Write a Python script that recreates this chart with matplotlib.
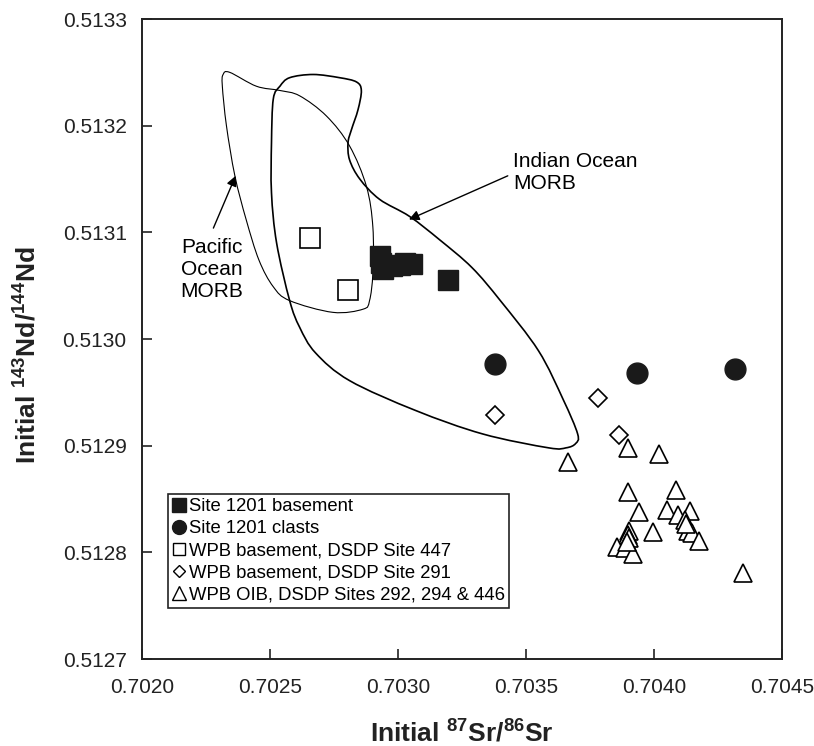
import matplotlib
matplotlib.use("Agg")
import matplotlib.pyplot as plt
from matplotlib import font_manager
from matplotlib.lines import Line2D
from matplotlib.path import Path
from matplotlib.patches import PathPatch

# Site 1201 basement (filled squares)
bas_sr = [0.702930, 0.702934, 0.702941, 0.702977, 0.703008, 0.703027, 0.703055, 0.703195]
bas_nd = [0.513078, 0.513071, 0.513066, 0.513068, 0.513069, 0.513071, 0.513070, 0.513055]

# Site 1201 clasts (filled circles)
cla_sr = [0.703378, 0.703932, 0.704315]
cla_nd = [0.512977, 0.512968, 0.512972]

# WPB basement, DSDP Site 447 (open squares)
s447_sr = [0.702655, 0.702805]
s447_nd = [0.513095, 0.513046]

# WPB basement, DSDP Site 291 (open diamonds)
s291_sr = [0.703380, 0.703780, 0.703864]
s291_nd = [0.512929, 0.512945, 0.512910]

# WPB OIB, DSDP Sites 292, 294 & 446 (open triangles)
oib_sr = [0.703666, 0.703899, 0.704019, 0.703900, 0.704085, 0.703941, 0.704050,
          0.704141, 0.704095, 0.704122, 0.703996, 0.703904, 0.703900, 0.703904,
          0.703855, 0.703888, 0.703918, 0.704134, 0.704148, 0.704177, 0.704126,
          0.704349, 0.703894]
oib_nd = [0.512885, 0.512898, 0.512892, 0.512857, 0.512858, 0.512838, 0.512840,
          0.512839, 0.512835, 0.512830, 0.512819, 0.512820, 0.512816, 0.512813,
          0.512805, 0.512804, 0.512798, 0.512820, 0.512818, 0.512811, 0.512827,
          0.512781, 0.512810]

# MORB fields (outline vertices)
pac_sr = [0.702317, 0.702343, 0.702447, 0.702539, 0.702616, 0.702721, 0.702811,
          0.702877, 0.702902, 0.702902, 0.702889, 0.702864, 0.702746, 0.702577,
          0.702513, 0.702457, 0.702407, 0.702363, 0.702330, 0.702314]
pac_nd = [0.513248, 0.513250, 0.513237, 0.513233, 0.513228, 0.513209, 0.513181,
          0.513143, 0.513105, 0.513062, 0.513036, 0.513028, 0.513025, 0.513036,
          0.513049, 0.513074, 0.513112, 0.513153, 0.513200, 0.513237]

ind_sr = [0.702513, 0.702539, 0.702577, 0.702669, 0.702772, 0.702838, 0.702857,
          0.702844, 0.702818, 0.702805, 0.702811, 0.702851, 0.702928, 0.703045,
          0.703163, 0.703289, 0.703400, 0.703549, 0.703646, 0.703702, 0.703694,
          0.703657, 0.703588, 0.703331, 0.703069, 0.702811, 0.702678, 0.702616,
          0.702577, 0.702526, 0.702506, 0.702506]
ind_nd = [0.513225, 0.513237, 0.513245, 0.513248, 0.513245, 0.513241, 0.513233,
          0.513215, 0.513196, 0.513184, 0.513168, 0.513150, 0.513131, 0.513115,
          0.513093, 0.513067, 0.513036, 0.512989, 0.512943, 0.512911, 0.512902,
          0.512898, 0.512898, 0.512911, 0.512933, 0.512961, 0.512987, 0.513011,
          0.513036, 0.513090, 0.513137, 0.513184]

x_ticks = [0.7020, 0.7025, 0.7030, 0.7035, 0.7040, 0.7045]
y_ticks = [0.5127, 0.5128, 0.5129, 0.5130, 0.5131, 0.5132, 0.5133]


def pick(names):
    for n in names:
        try:
            font_manager.findfont(n, fallback_to_default=False)
            return n
        except ValueError:
            pass
    return "DejaVu Sans"


def closed_curve(xs, ys):
    # smooth closed outline through the vertices (cubic bezier segments)
    n = len(xs)
    verts = [(xs[0], ys[0])]
    codes = [Path.MOVETO]
    for i in range(n):
        p0 = (xs[i - 1], ys[i - 1])
        p1 = (xs[i], ys[i])
        p2 = (xs[(i + 1) % n], ys[(i + 1) % n])
        p3 = (xs[(i + 2) % n], ys[(i + 2) % n])
        c1 = (p1[0] + (p2[0] - p0[0]) / 6, p1[1] + (p2[1] - p0[1]) / 6)
        c2 = (p2[0] - (p3[0] - p1[0]) / 6, p2[1] - (p3[1] - p1[1]) / 6)
        verts += [c1, c2, p2]
        codes += [Path.CURVE4] * 3
    return Path(verts, codes)


base_font = pick(["Liberation Sans", "Arial"])
label_font = pick(["Liberation Sans Narrow", "Liberation Sans"])

plt.rcParams["font.family"] = base_font
plt.rcParams["mathtext.fontset"] = "custom"
plt.rcParams["mathtext.rm"] = label_font + ":bold"
plt.rcParams["mathtext.it"] = label_font + ":bold"
plt.rcParams["mathtext.bf"] = label_font + ":bold"

fig = plt.figure(figsize=(8.14, 7.46), dpi=100)
ax = fig.add_axes([0.1744, 0.1166, 0.7862, 0.8579])

# fields
ax.add_patch(PathPatch(closed_curve(pac_sr, pac_nd), fill=False,
                       edgecolor="black", lw=0.8))
ax.add_patch(PathPatch(closed_curve(ind_sr, ind_nd), fill=False,
                       edgecolor="black", lw=1.2))

# data
ax.plot(oib_sr, oib_nd, ls="none", marker="^", ms=13, mfc="white",
        mec="black", mew=1.2)
ax.plot(s291_sr, s291_nd, ls="none", marker="D", ms=9, mfc="white",
        mec="black", mew=1.2)
ax.plot(s447_sr, s447_nd, ls="none", marker="s", ms=15, mfc="white",
        mec="black", mew=1.2)
ax.plot(cla_sr, cla_nd, ls="none", marker="o", ms=15, mfc="#1a1a1a",
        mec="#1a1a1a")
ax.plot(bas_sr, bas_nd, ls="none", marker="s", ms=15, mfc="#1a1a1a",
        mec="#1a1a1a")

# annotations
ax.annotate("", xy=(0.702366, 0.513153), xytext=(0.702279, 0.513104),
            arrowprops=dict(arrowstyle="-|>", color="black", lw=1,
                            mutation_scale=15, shrinkA=0, shrinkB=0))
ax.text(0.702273, 0.513065, "Pacific\nOcean\nMORB", fontsize=15,
        ha="center", va="center", linespacing=1.2)
ax.annotate("", xy=(0.703043, 0.513112), xytext=(0.703429, 0.513153),
            arrowprops=dict(arrowstyle="-|>", color="black", lw=1,
                            mutation_scale=15, shrinkA=0, shrinkB=0))
ax.text(0.70345, 0.513156, "Indian Ocean\nMORB", fontsize=15,
        ha="left", va="center", linespacing=1.2)

# axes
ax.set_xlim(0.7020, 0.7045)
ax.set_ylim(0.5127, 0.5133)
ax.set_xticks(x_ticks)
ax.set_xticklabels(["%.4f" % v for v in x_ticks])
ax.set_yticks(y_ticks)
ax.set_yticklabels(["%.4f" % v for v in y_ticks])
ax.tick_params(direction="in", length=7, width=1.2, labelsize=15, color="#222222",
               labelcolor="#222222")
ax.tick_params(axis="x", pad=14)
ax.tick_params(axis="y", pad=11)
for s in ax.spines.values():
    s.set_linewidth(1.4)
    s.set_color("#222222")

ax.set_xlabel("Initial $^{87}$Sr/$^{86}$Sr", fontsize=19, fontweight="bold",
              family=label_font, color="#222222")
ax.set_ylabel("Initial $^{143}$Nd/$^{144}$Nd", fontsize=19, fontweight="bold",
              family=label_font, color="#222222")
ax.xaxis.set_label_coords(0.5, -0.095)
ax.yaxis.set_label_coords(-0.158, 0.475)

# legend
handles = [
    Line2D([], [], ls="none", marker="s", ms=9.5, mfc="#1a1a1a", mec="#1a1a1a"),
    Line2D([], [], ls="none", marker="o", ms=10, mfc="#1a1a1a", mec="#1a1a1a"),
    Line2D([], [], ls="none", marker="s", ms=9, mfc="white", mec="black", mew=1),
    Line2D([], [], ls="none", marker="D", ms=6.5, mfc="white", mec="black", mew=1),
    Line2D([], [], ls="none", marker="^", ms=9.5, mfc="white", mec="black", mew=1),
]
labels = ["Site 1201 basement", "Site 1201 clasts",
          "WPB basement, DSDP Site 447", "WPB basement, DSDP Site 291",
          "WPB OIB, DSDP Sites 292, 294 & 446"]
leg = ax.legend(handles, labels, loc="lower left", bbox_to_anchor=(0.041, 0.079),
                borderaxespad=0, fontsize=13.3, frameon=True, fancybox=False,
                edgecolor="#222222", framealpha=1, borderpad=0.25,
                labelspacing=0.28, handlelength=0.7, handletextpad=0.15)
leg.get_frame().set_linewidth(1.2)

fig.savefig("out.png", dpi=100)
